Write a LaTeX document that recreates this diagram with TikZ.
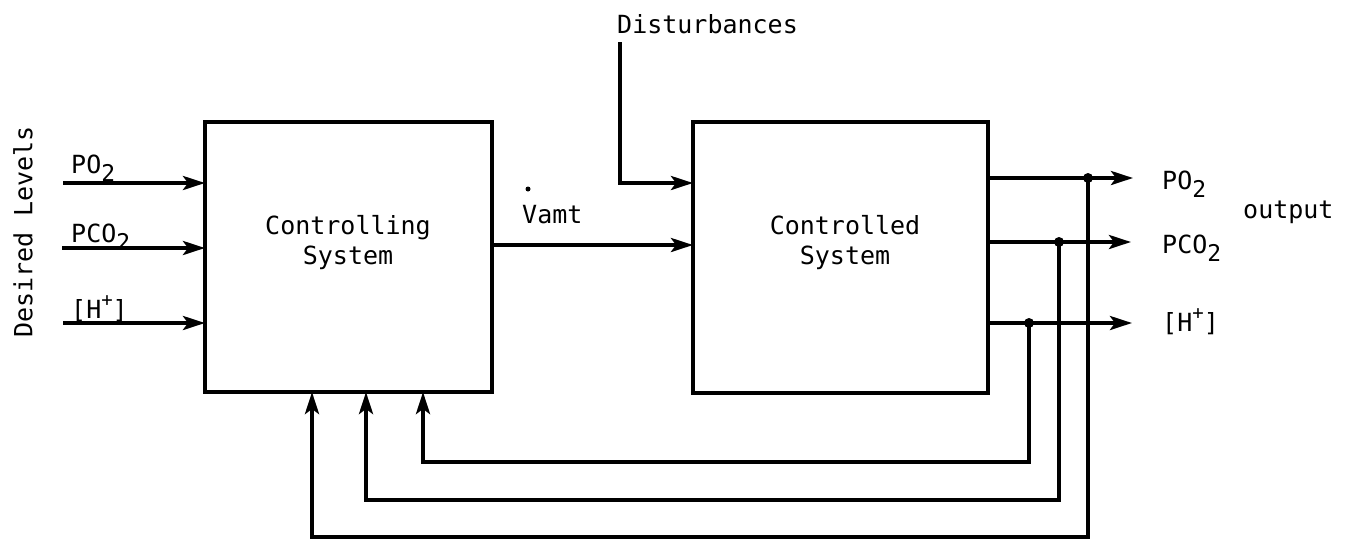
\documentclass[tikz,border=0pt]{standalone}
\usepackage{fontspec}
\newfontfamily\tw{DejaVu Sans Mono}
\usetikzlibrary{arrows.meta,calc}
\newcommand\lowtwo{\raisebox{-8pt}{\fontsize{23}{23}\selectfont 2}}
\newcommand\hplus{\raisebox{12pt}{\fontsize{19}{19}\selectfont +}}
\begin{document}
\begin{tikzpicture}[x=1pt,y=-1pt,
  wire/.style={line width=3.8pt},
  arr/.style={wire,-{Stealth[length=22pt,width=14pt,inset=5pt]}},
  blk/.style={draw,line width=4.4pt,outer sep=0pt,inner sep=0pt,minimum width=287pt,minimum height=270pt},
  lbl/.style={font=\tw\fontsize{25}{30}\selectfont,inner sep=0pt},
  jdot/.style={circle,fill,inner sep=0pt,minimum size=10pt}]
\useasboundingbox (0,0) rectangle (1357,542);

% blocks
\node[blk] (ctrl) at (348.5,257) {};
\node[lbl,align=center] (ctrltxt) at (348,243) {Controlling\\System};
\node[blk,minimum width=295pt,minimum height=271pt] (plant) at (840.5,257.5) {};
\node[lbl,align=center] (planttxt) at (845,243) {Controlled\\System};

% desired levels
\node[lbl,rotate=90] (desired) at (23,232) {Desired Levels};
\coordinate (i1) at (63,183);
\coordinate (i2) at (62,248);
\coordinate (i3) at (63,323);
\draw[arr] (i1) -- (i1 -| ctrl.west);
\draw[arr] (i2) -- (i2 -| ctrl.west);
\draw[arr] (i3) -- (i3 -| ctrl.west);
\node[lbl,anchor=base west] (lpo) at (71,173) {PO\lowtwo};
\node[lbl,anchor=base west] (lpco) at (71,242) {PCO\lowtwo};
\node[lbl,anchor=base west] (lh) at (71,318) {[H\hplus]};

% Vamt
\coordinate (v) at (492,245);
\draw[arr] (v) -- (v -| plant.west);
\node[lbl,anchor=base west] (vamt) at (522,223) {Vamt};
\node[circle,fill,inner sep=0pt,minimum size=5pt] (vdot) at (528,189) {};

% disturbances
\node[lbl,anchor=base west] (dist) at (617,33) {Disturbances};
\coordinate (d0) at (620,42);
\coordinate (d1) at (620,183);
\draw[arr] (d0) -- (d1) -- (d1 -| plant.west);

% outputs
\coordinate (t1) at (1133,178);
\coordinate (t2) at (1131,242);
\coordinate (t3) at (1132,323);
\draw[arr] (t1 -| plant.east) -- (t1);
\draw[arr] (t2 -| plant.east) -- (t2);
\draw[arr] (t3 -| plant.east) -- (t3);
\node[jdot] (j1) at (1088,178) {};
\node[jdot] (j2) at (1059,242) {};
\node[jdot] (j3) at (1029,323) {};
\node[lbl,anchor=base west] (opo) at (1162,189) {PO\lowtwo};
\node[lbl,anchor=base west] (opco) at (1162,253) {PCO\lowtwo};
\node[lbl,anchor=base west] (oh) at (1162,331) {[H\hplus]};
\node[lbl,anchor=base west] (out) at (1243,218) {output};

% feedback
\coordinate (f1) at (312,537);
\coordinate (f2) at (366,500);
\coordinate (f3) at (423,462);
\draw[arr] (j1.center) |- (f1) -- (f1 |- ctrl.south);
\draw[arr] (j2.center) |- (f2) -- (f2 |- ctrl.south);
\draw[arr] (j3.center) |- (f3) -- (f3 |- ctrl.south);
\end{tikzpicture}
\end{document}
